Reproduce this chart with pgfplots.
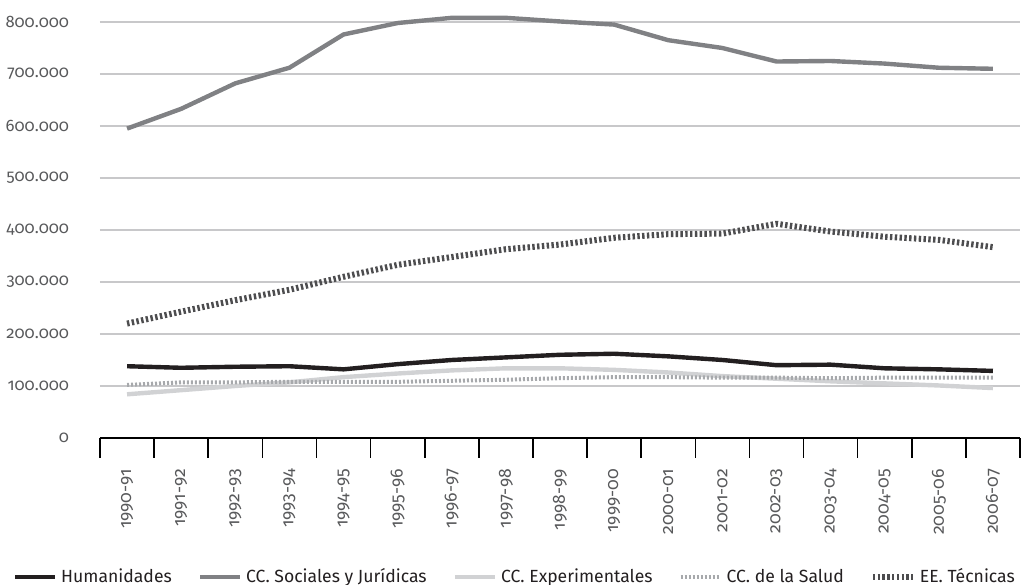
\documentclass[border=0pt]{standalone}
\usepackage{fontspec}
\setmainfont[Numbers=OldStyle]{Fira Sans}
\usepackage{pgfplots}
\pgfplotsset{compat=1.18}
\definecolor{hum}{HTML}{231F20}
\definecolor{soc}{HTML}{808184}
\definecolor{exp}{HTML}{D1D2D4}
\definecolor{sal}{HTML}{A7A9AC}
\definecolor{tec}{HTML}{4D4D4F}
\definecolor{gridc}{HTML}{C8C8CA}
\definecolor{txt}{HTML}{58595B}
\begin{document}
\begin{tikzpicture}
\begin{axis}[
  width=460pt, height=208pt, scale only axis,
  xmin=-0.5, xmax=16.5, ymin=0, ymax=800000,
  axis line style={draw=none},
  ytick={0,100000,...,800000},
  scaled y ticks=false,
  ymajorgrids, grid style={gridc, line width=0.7pt},
  yticklabel style={txt, font=\fontsize{8.3}{10}\selectfont, xshift=-2pt},
  /pgf/number format/.cd, fixed, 1000 sep={.}, assume math mode=true,
  /pgfplots/.cd,
  ytick style={draw=none},
  xtick pos=bottom,
  xtick={-0.5,0.5,...,16.5},
  xticklabels={},
  major x tick style={black, line width=0.8pt},
  major tick length=10pt, tick align=outside,
  extra x ticks={0,...,16},
  extra x tick labels={1990-91,1991-92,1992-93,1993-94,1994-95,1995-96,1996-97,1997-98,1998-99,1999-00,2000-01,2001-02,2002-03,2003-04,2004-05,2005-06,2006-07},
  extra x tick style={major tick length=0pt, tick style={draw=none}, xticklabel style={rotate=90, anchor=east, font=\fontsize{8.8}{10}\selectfont, txt, xshift=-12pt}},
  clip=false,
  legend style={at={(0.452,-0.334)}, anchor=center, draw=none, legend columns=-1, font=\fontsize{8.8}{11}\selectfont, text=hum, /tikz/every even column/.append style={column sep=11pt}},
  legend image code/.code={\draw[#1] (0pt,0pt) -- (20pt,0pt);},
  every axis plot/.append style={line width=2.2pt, line join=round},
]
\draw[black, line width=0.8pt] (axis cs:-0.5,0) -- (axis cs:16.5,0);
\coordinate (bl) at (rel axis cs:0,0);
\coordinate (tr) at (rel axis cs:1,1);
\addplot[hum] coordinates {(0,138000)(1,135000)(2,137000)(3,138000)(4,132000)(5,142000)(6,150000)(7,155000)(8,160000)(9,162000)(10,157000)(11,150000)(12,140000)(13,141000)(14,134000)(15,132000)(16,129000)};
\addlegendentry{Humanidades}
\addplot[soc] coordinates {(0,595000)(1,633000)(2,682000)(3,712000)(4,776000)(5,798000)(6,808000)(7,808000)(8,801000)(9,795000)(10,765000)(11,750000)(12,724000)(13,725000)(14,720000)(15,712000)(16,710000)};
\addlegendentry{CC. Sociales y Jurídicas}
\addplot[exp] coordinates {(0,84000)(1,92000)(2,100000)(3,107000)(4,117000)(5,124000)(6,130000)(7,134000)(8,134000)(9,131000)(10,126000)(11,119000)(12,114000)(13,109000)(14,105000)(15,101000)(16,96000)};
\addlegendentry{CC. Experimentales}
\addplot[sal, line width=2pt, dash pattern=on 1pt off 1pt] coordinates {(0,102000)(1,107000)(2,107000)(3,108000)(4,108000)(5,108000)(6,110000)(7,112000)(8,115000)(9,117000)(10,117000)(11,116000)(12,116000)(13,115000)(14,116000)(15,116000)(16,116000)};
\addlegendentry{CC. de la Salud}
\addplot[tec, line width=3pt, dash pattern=on 1.2pt off 1.2pt] coordinates {(0,220000)(1,243000)(2,265000)(3,285000)(4,310000)(5,333000)(6,348000)(7,363000)(8,372000)(9,385000)(10,392000)(11,393000)(12,412000)(13,397000)(14,387000)(15,381000)(16,367000)};
\addlegendentry{EE. Técnicas}
\end{axis}
\pgfresetboundingbox
\path ([xshift=-50pt,yshift=-73.5pt]bl) rectangle ([xshift=1pt,yshift=11pt]tr);
\end{tikzpicture}
\end{document}
